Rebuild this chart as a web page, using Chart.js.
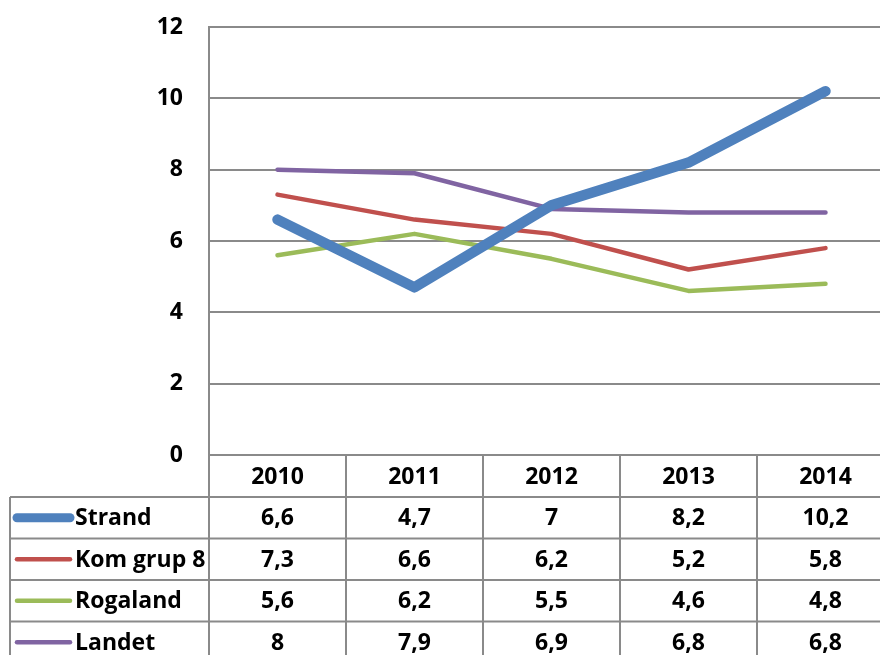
<!DOCTYPE html>
<html lang="no">
<head>
<meta charset="UTF-8">
<title>Strand</title>
<script src="https://cdn.jsdelivr.net/npm/chart.js"></script>
<style>
  html, body { margin: 0; padding: 0; background: #fff; overflow: hidden; }
  #wrap { width: 900px; height: 680px; }
</style>
</head>
<body>
<div id="wrap"><canvas id="chart"></canvas></div>
<script>
const years = ['2010', '2011', '2012', '2013', '2014'];
const strand = [6.6, 4.7, 7, 8.2, 10.2];
const komGrup8 = [7.3, 6.6, 6.2, 5.2, 5.8];
const rogaland = [5.6, 6.2, 5.5, 4.6, 4.8];
const landet = [8, 7.9, 6.9, 6.8, 6.8];

const FONT = '"Open Sans", "DejaVu Sans", sans-serif';
const GRID = '#8a8a8a';

// draws the data table under the plot, like Excel's "data table with legend keys"
const dataTable = {
  id: 'dataTable',
  afterDraw(chart) {
    const ctx = chart.ctx;
    const x = chart.scales.x;
    const area = chart.chartArea;
    const step = x.getPixelForValue(1) - x.getPixelForValue(0);
    const top = area.bottom;
    const rowH = 41.5;
    const headH = 42;
    const left = 10;
    const right = x.getPixelForValue(years.length - 1) + step / 2;
    const rows = chart.data.datasets.length;
    const bottom = top + headH + rows * rowH;

    ctx.save();
    ctx.strokeStyle = GRID;
    ctx.lineWidth = 2;
    ctx.beginPath();
    // column borders
    for (let i = 0; i <= years.length; i++) {
      const cx = x.getPixelForValue(0) - step / 2 + i * step;
      ctx.moveTo(cx, top);
      ctx.lineTo(cx, bottom);
    }
    ctx.moveTo(left, top + headH);
    ctx.lineTo(left, bottom);
    // row borders
    ctx.moveTo(area.left, top);
    ctx.lineTo(right, top);
    for (let r = 0; r <= rows; r++) {
      const ry = top + headH + r * rowH;
      ctx.moveTo(left, ry);
      ctx.lineTo(right, ry);
    }
    ctx.stroke();

    ctx.fillStyle = '#000';
    ctx.font = 'bold 23px ' + FONT;
    ctx.textBaseline = 'middle';
    ctx.textAlign = 'center';
    years.forEach((y, i) => ctx.fillText(y, x.getPixelForValue(i), top + headH / 2 + 1));

    chart.data.datasets.forEach((ds, r) => {
      const cy = top + headH + r * rowH + rowH / 2 + 1;
      // legend key
      ctx.strokeStyle = ds.borderColor;
      ctx.lineWidth = r === 0 ? 9 : 4.5;
      ctx.lineCap = 'round';
      ctx.beginPath();
      ctx.moveTo(17, cy - 1);
      ctx.lineTo(70, cy - 1);
      ctx.stroke();
      ctx.textAlign = 'left';
      ctx.fillText(ds.label, 75, cy);
      ctx.textAlign = 'center';
      ds.data.forEach((v, i) => {
        ctx.fillText(String(v).replace('.', ','), x.getPixelForValue(i), cy);
      });
    });
    ctx.restore();
  }
};

new Chart(document.getElementById('chart'), {
  type: 'line',
  data: {
    labels: years,
    datasets: [
      { label: 'Strand', data: strand, borderColor: '#4F81BD', borderWidth: 10.5 },
      { label: 'Kom grup 8', data: komGrup8, borderColor: '#C0504D', borderWidth: 4.5 },
      { label: 'Rogaland', data: rogaland, borderColor: '#9BBB59', borderWidth: 4.5 },
      { label: 'Landet', data: landet, borderColor: '#8064A2', borderWidth: 4.5 }
    ].map(d => Object.assign(d, {
      tension: 0, pointRadius: 0, borderCapStyle: 'round', borderJoinStyle: 'round', fill: false
    }))
  },
  options: {
    responsive: true,
    maintainAspectRatio: false,
    animation: false,
    layout: { padding: { top: 27, bottom: 225, left: 0, right: 6 } },
    plugins: { legend: { display: false }, tooltip: { enabled: false } },
    scales: {
      x: {
        offset: true,
        afterFit: s => { s.height = 0; },
        grid: { display: false },
        border: { display: false },
        ticks: { display: false }
      },
      y: {
        min: 0, max: 12,
        afterFit: s => { s.width = 209; s.paddingTop = 0; s.paddingBottom = 0; },
        ticks: { stepSize: 2, padding: 26, color: '#000', font: { family: FONT, size: 23, weight: 'bold' } },
        grid: { color: GRID, lineWidth: 2, drawTicks: false },
        border: { color: GRID, width: 2 }
      }
    }
  },
  plugins: [dataTable]
});
</script>
</body>
</html>
